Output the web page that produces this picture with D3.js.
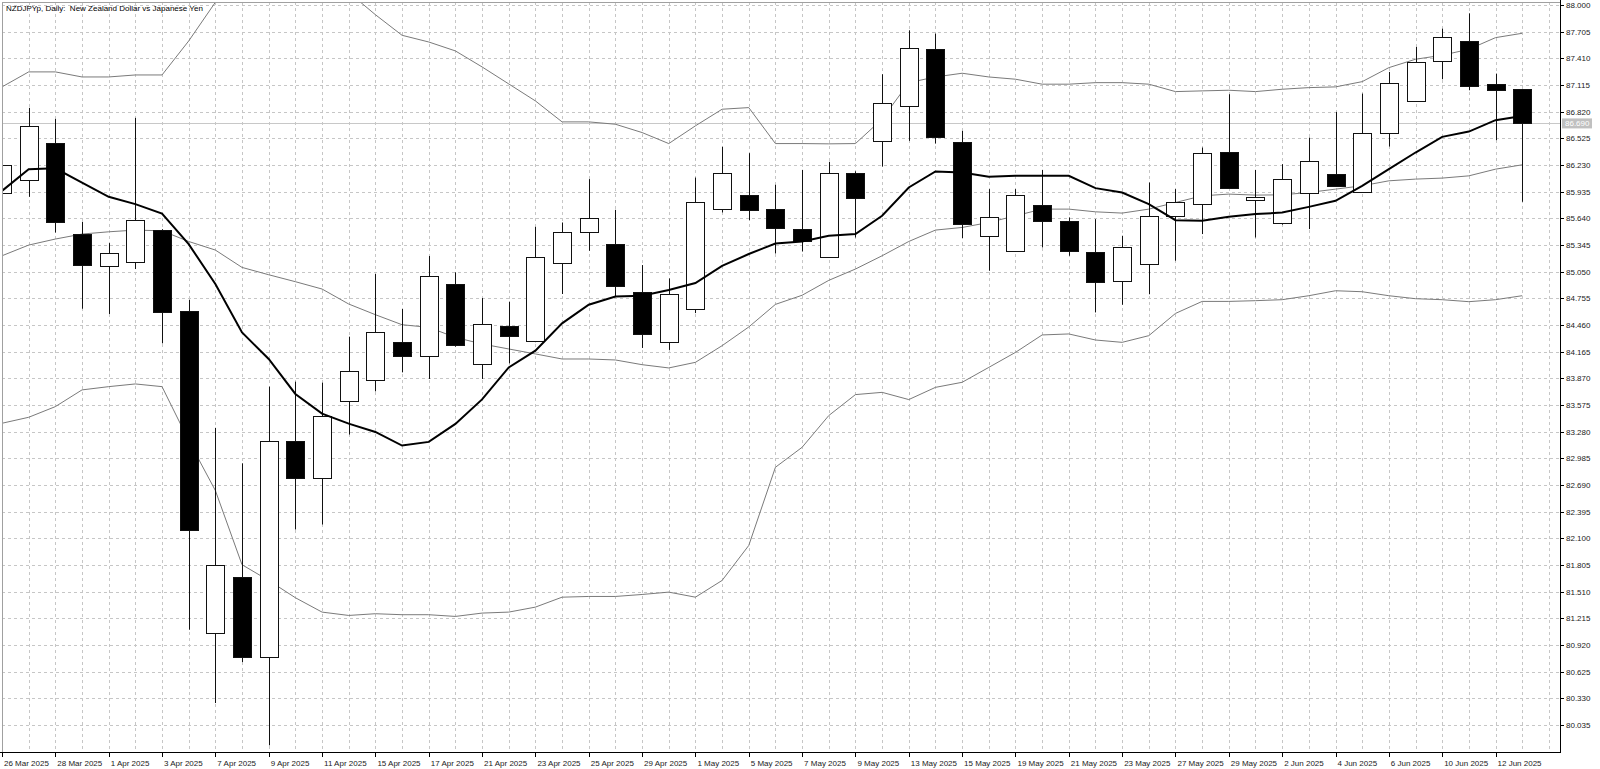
<!DOCTYPE html>
<html>
<head>
<meta charset="utf-8">
<script src="https://cdn.jsdelivr.net/npm/d3@7"></script>
<style>
body { margin: 0; background: #fff; overflow: hidden; }
text { font-family: "Liberation Sans", Arial, sans-serif; font-size: 8px; fill: #222; }
</style>
</head>
<body>
<script>
// NZDJPYp daily candles, 26 Mar - 13 Jun 2025
var dates = ["26 Mar 2025","27 Mar 2025","28 Mar 2025","31 Mar 2025","1 Apr 2025","2 Apr 2025","3 Apr 2025","4 Apr 2025",
  "7 Apr 2025","8 Apr 2025","9 Apr 2025","10 Apr 2025","11 Apr 2025","14 Apr 2025","15 Apr 2025","16 Apr 2025",
  "17 Apr 2025","18 Apr 2025","21 Apr 2025","22 Apr 2025","23 Apr 2025","24 Apr 2025","25 Apr 2025","28 Apr 2025",
  "29 Apr 2025","30 Apr 2025","1 May 2025","2 May 2025","5 May 2025","6 May 2025","7 May 2025","8 May 2025",
  "9 May 2025","12 May 2025","13 May 2025","14 May 2025","15 May 2025","16 May 2025","19 May 2025","20 May 2025",
  "21 May 2025","22 May 2025","23 May 2025","26 May 2025","27 May 2025","28 May 2025","29 May 2025","30 May 2025",
  "2 Jun 2025","3 Jun 2025","4 Jun 2025","5 Jun 2025","6 Jun 2025","9 Jun 2025","10 Jun 2025","11 Jun 2025",
  "12 Jun 2025","13 Jun 2025"];

var opens = [85.922,86.066,86.478,85.472,85.123,85.160,85.510,84.618,81.056,81.671,80.786,83.181,82.776,83.616,83.844,84.275,
  84.121,84.913,84.029,84.452,84.275,85.145,85.491,85.355,84.820,84.268,84.643,85.742,85.903,85.742,85.521,85.215,
  86.147,86.494,86.891,87.510,86.486,85.447,85.281,85.786,85.613,85.270,84.939,85.134,85.668,85.808,86.375,85.845,
  85.583,85.919,86.129,85.937,86.582,86.939,87.378,87.602,87.124,87.068];
var highs = [86.280,86.862,86.740,85.602,85.366,86.751,85.520,84.740,83.322,82.930,83.778,83.833,83.822,84.331,85.024,84.637,
  85.223,85.042,84.758,84.718,85.546,85.594,86.074,85.734,85.123,84.975,86.091,86.431,86.361,86.011,86.176,86.265,
  86.160,87.234,87.720,87.683,86.607,85.963,85.963,86.176,85.650,85.631,85.447,86.036,85.963,86.423,87.013,86.176,
  86.239,86.533,86.817,87.020,87.259,87.536,87.738,87.908,87.241,87.070];
var lows = [85.880,85.878,85.483,84.640,84.582,85.079,84.257,81.089,80.278,80.731,79.810,82.198,82.253,83.248,83.726,83.936,
  83.863,84.220,83.863,84.036,84.270,84.803,85.281,84.776,84.206,84.184,84.592,85.705,85.620,85.251,85.273,85.210,
  85.428,86.213,86.497,86.467,85.422,85.060,85.270,85.318,85.226,84.599,84.684,84.800,85.171,85.466,85.970,85.428,
  85.570,85.521,85.990,85.930,86.434,86.930,87.179,87.057,86.505,85.823];
var closes = [86.232,86.663,85.609,85.130,85.262,85.620,84.599,82.194,81.807,80.787,83.181,82.776,83.458,83.951,84.378,84.121,
  85.001,84.239,84.471,84.342,85.207,85.491,85.649,84.894,84.360,84.803,85.823,86.140,85.738,85.528,85.392,86.147,
  85.870,86.914,87.528,86.533,85.576,85.657,85.900,85.613,85.281,84.939,85.318,85.668,85.823,86.368,85.981,85.878,
  86.074,86.273,86.000,86.589,87.135,87.370,87.646,87.105,87.057,86.690];

// Bollinger bands (thin grey) and moving average (thick black)
var bbUpper = [87.094,87.260,87.260,87.204,87.204,87.226,87.226,87.602,88.030,88.390,88.400,88.440,88.430,88.140,87.893,87.665,
  87.591,87.492,87.315,87.127,86.939,86.707,86.707,86.681,86.589,86.467,86.663,86.847,86.865,86.467,86.467,86.464,
  86.467,86.737,87.141,87.204,87.245,87.204,87.179,87.124,87.124,87.141,87.141,87.124,87.042,87.050,87.057,87.042,
  87.068,87.086,87.094,87.152,87.307,87.400,87.444,87.510,87.639,87.687];
var bbMiddle = [85.226,85.344,85.411,85.466,85.491,85.510,85.502,85.384,85.289,85.097,85.016,84.939,84.858,84.692,84.574,84.463,
  84.434,84.323,84.250,84.195,84.140,84.084,84.084,84.073,84.021,83.985,84.047,84.231,84.438,84.688,84.789,84.954,
  85.079,85.226,85.384,85.510,85.539,85.594,85.668,85.742,85.742,85.712,85.698,85.742,85.815,85.889,85.908,85.897,
  85.900,85.926,85.963,86.000,86.055,86.074,86.085,86.110,86.184,86.232];
var bbLower = [83.373,83.439,83.557,83.742,83.778,83.808,83.778,83.181,82.629,81.808,81.634,81.443,81.284,81.247,81.266,81.255,
  81.255,81.236,81.273,81.284,81.339,81.449,81.457,81.457,81.479,81.505,81.449,81.634,82.021,82.886,83.107,83.458,
  83.690,83.715,83.635,83.770,83.826,83.991,84.157,84.350,84.361,84.294,84.268,84.342,84.588,84.721,84.721,84.729,
  84.740,84.784,84.839,84.828,84.784,84.751,84.740,84.718,84.740,84.784];
var maLine = [85.944,86.184,86.193,86.036,85.878,85.797,85.693,85.355,84.913,84.378,84.084,83.697,83.479,83.369,83.277,83.126,
  83.167,83.366,83.637,83.991,84.176,84.478,84.684,84.776,84.784,84.847,84.924,85.115,85.245,85.362,85.384,85.447,
  85.466,85.668,85.981,86.158,86.147,86.099,86.110,86.110,86.110,85.974,85.926,85.797,85.620,85.613,85.657,85.687,
  85.704,85.767,85.834,86.000,86.184,86.368,86.541,86.600,86.726,86.773];

var priceTicks = [88.000,87.705,87.410,87.115,86.820,86.525,86.230,85.935,85.640,85.345,85.050,84.755,84.460,84.165,
  83.870,83.575,83.280,82.985,82.690,82.395,82.100,81.805,81.510,81.215,80.920,80.625,80.330,80.035];
var lastPrice = 86.690;
var title = "NZDJPYp, Daily:  New Zealand Dollar vs Japanese Yen";

var W = 1600, H = 769;
var pL = 2, pT = 2, pR = 1560, pB = 752;
var barStep = 26.67;

var svg = d3.select("body").append("svg").attr("width", W).attr("height", H);

var x = d3.scaleLinear().domain([0, dates.length - 1]).range([2, 2 + (dates.length - 1) * barStep]);
var y = d3.scaleLinear().domain([88, 80.035]).range([5, 725]);
function px(i) { return Math.round(x(i)) + 0.5; }

svg.append("defs").append("clipPath").attr("id", "plot")
  .append("rect").attr("x", pL).attr("y", pT).attr("width", pR - pL).attr("height", pB - pT);

// grid
var grid = svg.append("g").attr("stroke", "#c6c6c6").attr("stroke-dasharray", "3,3")
  .attr("shape-rendering", "crispEdges");
grid.selectAll(".hg").data(priceTicks).enter().append("line")
  .attr("x1", pL).attr("x2", pR)
  .attr("y1", function (d) { return Math.round(y(d)) + 0.5; })
  .attr("y2", function (d) { return Math.round(y(d)) + 0.5; });
grid.selectAll(".vg").data(d3.range(1, dates.length + 1)).enter().append("line")
  .attr("y1", pT).attr("y2", pB)
  .attr("x1", function (d) { return px(d); })
  .attr("x2", function (d) { return px(d); });

var plot = svg.append("g").attr("clip-path", "url(#plot)");

// last price line
plot.append("line").attr("x1", pL).attr("x2", pR)
  .attr("y1", Math.round(y(lastPrice)) + 0.5).attr("y2", Math.round(y(lastPrice)) + 0.5)
  .attr("stroke", "#c8c8c8").attr("stroke-width", 1);

// bollinger bands + ma
var line = d3.line().x(function (d, i) { return x(i); }).y(function (d) { return y(d); });
[bbUpper, bbMiddle, bbLower].forEach(function (s) {
  plot.append("path").attr("d", line(s)).attr("fill", "none")
    .attr("stroke", "#7a7a7a").attr("stroke-width", 1);
});

// candles
plot.selectAll(".wick").data(dates).enter().append("line")
  .attr("x1", function (d, i) { return px(i); })
  .attr("x2", function (d, i) { return px(i); })
  .attr("y1", function (d, i) { return y(highs[i]); })
  .attr("y2", function (d, i) { return y(lows[i]); })
  .attr("stroke", "#111").attr("stroke-width", 1);

plot.selectAll(".body").data(dates).enter().append("rect")
  .attr("x", function (d, i) { return Math.round(x(i)) - 9 + 0.5; })
  .attr("width", 18)
  .attr("y", function (d, i) { return Math.round(y(Math.max(opens[i], closes[i]))) + 0.5; })
  .attr("height", function (d, i) { return Math.max(1, Math.round(Math.abs(y(opens[i]) - y(closes[i])))); })
  .attr("fill", function (d, i) { return closes[i] >= opens[i] ? "#fff" : "#000"; })
  .attr("stroke", "#111").attr("stroke-width", 1)
  .attr("shape-rendering", "crispEdges");

plot.append("path").attr("d", line(maLine)).attr("fill", "none")
  .attr("stroke", "#000").attr("stroke-width", 2);

// frame
svg.append("rect").attr("x", pL + 0.5).attr("y", pT + 0.5).attr("width", pR - pL).attr("height", pB - pT)
  .attr("fill", "none").attr("stroke", "#a0a0a0").attr("shape-rendering", "crispEdges");
svg.append("line").attr("x1", pR + 0.5).attr("x2", pR + 0.5).attr("y1", 0).attr("y2", pB + 1)
  .attr("stroke", "#000").attr("shape-rendering", "crispEdges");
svg.append("line").attr("x1", 0).attr("x2", pR + 1).attr("y1", pB + 0.5).attr("y2", pB + 0.5)
  .attr("stroke", "#000").attr("shape-rendering", "crispEdges");

// price axis
var ax = svg.append("g");
ax.selectAll(".pt").data(priceTicks).enter().append("line")
  .attr("x1", pR).attr("x2", pR + 4)
  .attr("y1", function (d) { return Math.round(y(d)) + 0.5; })
  .attr("y2", function (d) { return Math.round(y(d)) + 0.5; })
  .attr("stroke", "#000").attr("shape-rendering", "crispEdges");
ax.selectAll(".pl").data(priceTicks).enter().append("text")
  .attr("x", pR + 6)
  .attr("y", function (d) { return y(d) + 3; })
  .text(function (d) { return d.toFixed(3); });

ax.append("rect").attr("x", pR + 2).attr("y", y(lastPrice) - 5).attr("width", 30).attr("height", 10)
  .attr("fill", "#c0c0c0");
ax.append("text").attr("x", pR + 5).attr("y", y(lastPrice) + 3).style("fill", "#fff")
  .text(lastPrice.toFixed(3));

// time axis
var labelIdx = d3.range(0, dates.length, 2);
ax.selectAll(".tt").data(labelIdx).enter().append("line")
  .attr("x1", function (d) { return px(d); })
  .attr("x2", function (d) { return px(d); })
  .attr("y1", pB).attr("y2", pB + 5)
  .attr("stroke", "#000").attr("shape-rendering", "crispEdges");
ax.selectAll(".tl").data(labelIdx).enter().append("text")
  .attr("x", function (d) { return Math.max(2, x(d) + 2); })
  .attr("y", 766)
  .text(function (d) { return dates[d]; });

svg.append("text").attr("x", 6).attr("y", 11).style("white-space", "pre").style("fill", "#000")
  .text(title);
</script>
</body>
</html>
